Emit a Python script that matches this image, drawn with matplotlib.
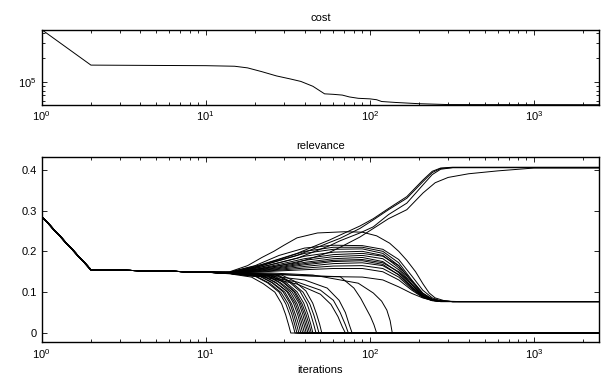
import matplotlib
matplotlib.use('Agg')
import matplotlib.pyplot as plt
from matplotlib.ticker import FormatStrFormatter, NullFormatter

plt.rcParams['font.family'] = ['Liberation Sans', 'DejaVu Sans']
plt.rcParams['font.size'] = 8

X_MAX = 2500

# cost per iteration (top panel)
cost_iter = [1, 2, 5, 10, 15, 18, 22, 27, 33, 38, 45, 53, 60, 68, 75, 85,
             100, 110, 118, 143, 200, 300, 2500]
cost_val = [4.35e5, 1.62e5, 1.605e5, 1.595e5, 1.57e5, 1.5e5, 1.35e5, 1.2e5,
            1.1e5, 1.03e5, 9.0e4, 7.3e4, 7.2e4, 7.05e4, 6.7e4, 6.45e4,
            6.35e4, 6.2e4, 5.9e4, 5.75e4, 5.55e4, 5.42e4, 5.4e4]

# every relevance curve shares the same first iterations
prefix_iter = [1, 2, 5, 10]
prefix_rel = [0.286, 0.155, 0.152, 0.149]

# curves that die out to zero
zero_curves = [
    ([14, 19, 22.4, 26.4, 29, 30.7, 32, 33], [0.145, 0.137, 0.121, 0.1, 0.072, 0.045, 0.02, 0]),
    ([14, 20, 23.8, 28, 30.8, 32.6, 34, 35], [0.146, 0.139, 0.123, 0.1, 0.071, 0.044, 0.02, 0]),
    ([14, 20.5, 24.5, 28.8, 31.7, 33.5, 34.9, 36], [0.146, 0.138, 0.122, 0.099, 0.072, 0.046, 0.02, 0]),
    ([14, 21, 25.2, 29.6, 32.6, 34.4, 35.9, 37], [0.146, 0.14, 0.124, 0.101, 0.073, 0.045, 0.019, 0]),
    ([14, 21.7, 25.8, 30.4, 33.4, 35.3, 36.9, 38], [0.146, 0.139, 0.122, 0.1, 0.071, 0.044, 0.02, 0]),
    ([14, 22.2, 26.5, 31.2, 34.3, 36.3, 37.8, 39], [0.147, 0.14, 0.125, 0.102, 0.073, 0.046, 0.021, 0]),
    ([14, 22.8, 27.2, 32, 35.2, 37.2, 38.8, 40], [0.146, 0.138, 0.121, 0.099, 0.072, 0.045, 0.02, 0]),
    ([14, 23.4, 27.9, 32.8, 36.1, 38.1, 39.8, 41], [0.147, 0.141, 0.124, 0.1, 0.071, 0.044, 0.02, 0]),
    ([14, 24, 28.6, 33.6, 37, 39, 40.7, 42], [0.147, 0.14, 0.123, 0.101, 0.073, 0.046, 0.02, 0]),
    ([14, 24.5, 29.2, 34.4, 37.8, 40, 41.7, 43], [0.147, 0.141, 0.126, 0.102, 0.072, 0.045, 0.019, 0]),
    ([14, 25, 30, 35.2, 38.7, 40.9, 42.7, 44], [0.147, 0.14, 0.124, 0.1, 0.071, 0.045, 0.02, 0]),
    ([14, 25.7, 30.6, 36, 39.6, 41.9, 43.7, 45], [0.147, 0.141, 0.125, 0.101, 0.073, 0.046, 0.021, 0]),
    ([14, 26.8, 32, 37.6, 41.4, 43.7, 45.6, 47], [0.147, 0.142, 0.126, 0.102, 0.072, 0.045, 0.02, 0]),
    ([14, 27.9, 33.3, 39.2, 43.1, 45.6, 47.5, 49], [0.147, 0.141, 0.124, 0.1, 0.071, 0.044, 0.02, 0]),
    ([14, 29, 34.7, 40.8, 44.9, 47.4, 49.5, 51], [0.147, 0.142, 0.127, 0.103, 0.073, 0.046, 0.021, 0]),
    ([14, 22, 36, 50, 58, 64, 68, 71], [0.146, 0.138, 0.12, 0.095, 0.07, 0.04, 0.015, 0]),
    ([14, 22, 36, 50, 60, 66, 71, 74], [0.146, 0.14, 0.125, 0.105, 0.08, 0.05, 0.02, 0]),
    ([14, 22, 40, 55, 65, 71, 75, 78], [0.147, 0.142, 0.13, 0.11, 0.08, 0.05, 0.02, 0]),
    ([14, 25, 45, 66, 80, 88, 95, 101, 106, 110], [0.147, 0.145, 0.14, 0.138, 0.11, 0.085, 0.06, 0.04, 0.02, 0]),
    ([14, 25, 45, 66, 85, 105, 118, 127, 133, 137], [0.148, 0.147, 0.142, 0.13, 0.122, 0.098, 0.078, 0.056, 0.03, 0]),
]

# curves settling on the middle level
mid_iter = [14, 20, 28, 40, 60, 90, 120, 150, 180, 210, 240, 270, 320, 400]
mid_curves = [
    ([14, 18, 22, 26, 30, 36, 48, 70, 90, 110, 132, 150, 168, 190, 211, 230, 250, 290, 350],
     [0.15, 0.165, 0.185, 0.2, 0.215, 0.233, 0.245, 0.248, 0.247, 0.238, 0.22, 0.2,
      0.178, 0.15, 0.12, 0.098, 0.086, 0.078, 0.077]),
    (mid_iter, [0.149, 0.165, 0.19, 0.208, 0.215, 0.214, 0.205, 0.18, 0.14, 0.105, 0.086, 0.079, 0.077, 0.077]),
    (mid_iter, [0.149, 0.162, 0.18, 0.2, 0.21, 0.21, 0.2, 0.172, 0.13, 0.098, 0.083, 0.078, 0.077, 0.077]),
    (mid_iter, [0.148, 0.16, 0.178, 0.195, 0.205, 0.206, 0.195, 0.165, 0.125, 0.095, 0.082, 0.078, 0.077, 0.077]),
    (mid_iter, [0.148, 0.158, 0.172, 0.188, 0.198, 0.2, 0.19, 0.16, 0.12, 0.093, 0.081, 0.078, 0.077, 0.077]),
    (mid_iter, [0.148, 0.156, 0.168, 0.182, 0.192, 0.195, 0.188, 0.165, 0.128, 0.097, 0.083, 0.078, 0.077, 0.077]),
    (mid_iter, [0.148, 0.155, 0.165, 0.178, 0.187, 0.19, 0.182, 0.155, 0.118, 0.092, 0.081, 0.078, 0.077, 0.077]),
    (mid_iter, [0.147, 0.154, 0.162, 0.173, 0.182, 0.185, 0.175, 0.148, 0.113, 0.09, 0.08, 0.078, 0.077, 0.077]),
    (mid_iter, [0.147, 0.153, 0.16, 0.17, 0.178, 0.18, 0.172, 0.15, 0.118, 0.092, 0.081, 0.078, 0.077, 0.077]),
    (mid_iter, [0.147, 0.152, 0.158, 0.167, 0.175, 0.177, 0.168, 0.142, 0.11, 0.089, 0.08, 0.077, 0.077, 0.077]),
    (mid_iter, [0.147, 0.151, 0.156, 0.163, 0.17, 0.172, 0.165, 0.143, 0.113, 0.09, 0.08, 0.078, 0.077, 0.077]),
    (mid_iter, [0.147, 0.15, 0.154, 0.159, 0.164, 0.165, 0.158, 0.137, 0.108, 0.088, 0.08, 0.077, 0.077, 0.077]),
    (mid_iter, [0.146, 0.149, 0.152, 0.155, 0.158, 0.158, 0.15, 0.13, 0.105, 0.087, 0.079, 0.077, 0.077, 0.077]),
    (mid_iter, [0.146, 0.145, 0.143, 0.14, 0.138, 0.137, 0.13, 0.113, 0.097, 0.086, 0.08, 0.078, 0.077, 0.077]),
]

# curves climbing to the top level
top_iter = [14, 22, 36, 57, 66, 87, 105, 130, 168, 211, 240, 270, 320]
top_curves = [
    (top_iter, [0.149, 0.168, 0.195, 0.228, 0.24, 0.262, 0.28, 0.305, 0.334, 0.375, 0.396, 0.404, 0.406]),
    (top_iter, [0.148, 0.165, 0.19, 0.222, 0.232, 0.256, 0.277, 0.302, 0.33, 0.371, 0.393, 0.403, 0.405]),
    (top_iter, [0.148, 0.162, 0.183, 0.214, 0.226, 0.245, 0.26, 0.29, 0.318, 0.363, 0.388, 0.401, 0.405]),
    ([14, 22, 36, 57, 66, 87, 105, 130, 168, 211, 250, 300, 400, 600, 1000],
     [0.148, 0.158, 0.172, 0.198, 0.21, 0.235, 0.256, 0.28, 0.302, 0.343, 0.368, 0.381, 0.39, 0.397, 0.404]),
]


def style_axes(ax):
    ax.tick_params(which='both', direction='in', top=True, right=True, width=0.6)
    ax.tick_params(which='major', length=3.5)
    ax.tick_params(which='minor', length=2)
    ax.tick_params(axis='x', which='major', pad=3.5)
    ax.tick_params(axis='y', which='major', pad=3.5)
    for sp in ax.spines.values():
        sp.set_linewidth(1.0)


fig = plt.figure(figsize=(6.16, 3.75), dpi=100)

ax1 = fig.add_axes([0.0674, 0.7208, 0.9055, 0.2005])
ax1.loglog(cost_iter, cost_val, color='black', lw=0.7)
ax1.set_xlim(1, X_MAX)
ax1.set_ylim(5.4e4, 4.35e5)
ax1.yaxis.set_minor_formatter(NullFormatter())
ax1.set_title('cost', fontsize=8, pad=6)
style_axes(ax1)

ax2 = fig.add_axes([0.0674, 0.088, 0.9055, 0.4933])
for group in (zero_curves, mid_curves, top_curves):
    for iters, vals in group:
        xs = prefix_iter + list(iters) + [X_MAX]
        ys = prefix_rel + list(vals) + [vals[-1]]
        ax2.plot(xs, ys, color='black', lw=0.7)
ax2.set_xscale('log')
ax2.set_xlim(1, X_MAX)
ax2.set_ylim(-0.022, 0.431)
ax2.set_yticks([0, 0.1, 0.2, 0.3, 0.4])
ax2.yaxis.set_major_formatter(FormatStrFormatter('%g'))
ax2.set_title('relevance', fontsize=8, pad=6)
ax2.set_xlabel('iterations', fontsize=8, labelpad=3)
style_axes(ax2)

fig.savefig('out.png', dpi=100)
